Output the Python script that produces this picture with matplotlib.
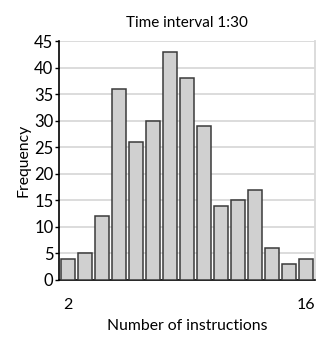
import matplotlib
matplotlib.use("Agg")
import matplotlib.pyplot as plt
import numpy as np

plt.rcParams['font.family'] = ['Lato', 'DejaVu Sans']

instructions = list(range(2, 17))
frequency = [4, 5, 12, 36, 26, 30, 43, 38, 29, 14, 15, 17, 6, 3, 4]
xtick_labels = {2: "2", 16: "16"}
yticks = [0, 5, 10, 15, 20, 25, 30, 35, 40, 45]

fig = plt.figure(figsize=(3.22, 3.38), dpi=100)
ax = fig.add_axes([59 / 322, 1 - 280 / 338, 256 / 322, 239 / 338])

ax.bar(instructions, frequency, width=0.82, color="#d0d0d0",
       edgecolor="#3a3a3a", linewidth=1.1, zorder=3)

ax.set_xlim(instructions[0] - 0.5, instructions[-1] + 0.5)
ax.set_ylim(0, 45)
ax.set_yticks(yticks)
ax.yaxis.grid(True, color="#d9d9d9", linewidth=1.3, zorder=0)
ax.set_axisbelow(True)

ax.set_xticks(list(xtick_labels.keys()))
ax.set_xticklabels(list(xtick_labels.values()))
ax.tick_params(axis="x", length=0, pad=13, labelsize=11.5)
ax.tick_params(axis="y", length=3, width=1, pad=1, labelsize=12, color="black")

ax.spines["top"].set_visible(False)
ax.spines["right"].set_color("#d9d9d9")
ax.spines["right"].set_linewidth(1.3)
ax.spines["left"].set_linewidth(1.2)
ax.spines["bottom"].set_linewidth(1.2)

ax.set_title("Time interval 1:30", fontsize=11, pad=10)
ax.set_xlabel("Number of instructions", fontsize=11.3, labelpad=5)
ax.set_ylabel("Frequency", fontsize=11.3, labelpad=3)

fig.savefig("out.png", dpi=100)
